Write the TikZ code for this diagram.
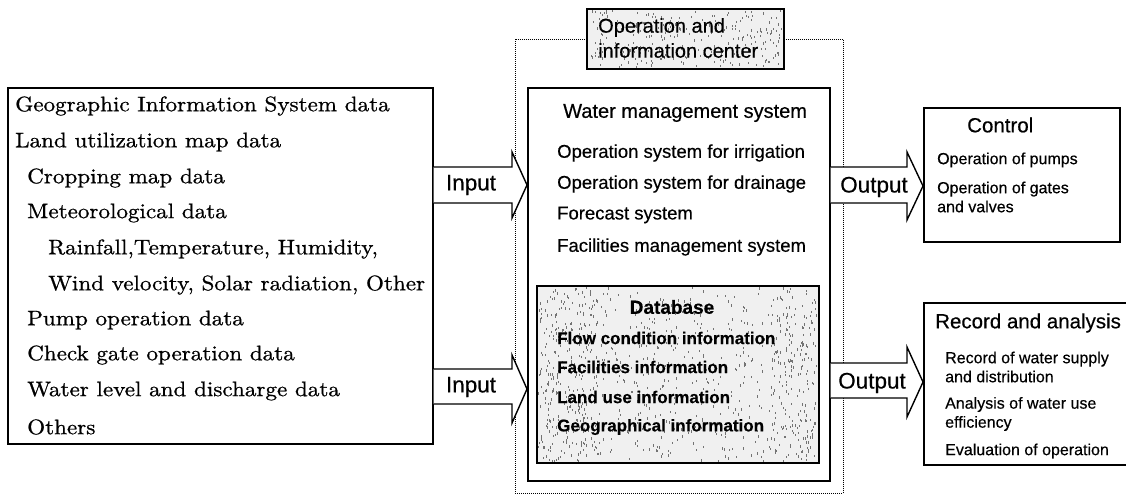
\documentclass[tikz,border=0pt]{standalone}
\usepackage{fontspec}
\newfontfamily\arialfont[FakeBold=0.4]{Liberation Sans}
\newfontfamily\datafont[FakeBold=0.8,FakeStretch=1.1]{lmroman10-regular.otf}
\usetikzlibrary{calc}
\tikzset{
  frame/.style={draw, line width=1.6pt, inner sep=0pt},
  blockarrow/.style={draw, line width=1.4pt, fill=white, line join=miter},
  datatext/.style={anchor=west, inner sep=0pt, font=\datafont\fontsize{21}{25}\selectfont},
  systext/.style={anchor=west, inner sep=0pt, font=\arialfont\fontsize{18.5}{22}\selectfont},
  headtext/.style={anchor=west, inner sep=0pt, font=\arialfont\fontsize{20}{24}\selectfont},
  dbtext/.style={anchor=west, inner sep=0pt, font=\arialfont\bfseries\fontsize{17}{20}\selectfont},
  flowtext/.style={inner sep=0pt, font=\arialfont\fontsize{22.5}{26}\selectfont},
  outtext/.style={anchor=west, inner sep=0pt, align=left, font=\arialfont\fontsize{16}{19}\selectfont},
  speck/.style={fill=black!55},
}
\begin{document}
\begin{tikzpicture}[x=1pt, y=-1pt]
\useasboundingbox (0,0) rectangle (1126,495);
\pgfmathsetseed{4213}

% input data list
\node[frame, anchor=north west, minimum width=425pt, minimum height=356pt] (datalist) at (7,87) {};
\node[datatext] (d1)  at (15,106) {Geographic Information System data};
\node[datatext] (d2)  at (15,142) {Land utilization map data};
\node[datatext] (d3)  at (27,178) {Cropping map data};
\node[datatext] (d4)  at (27,213) {Meteorological data};
\node[datatext] (d5)  at (48,249) {Rainfall,Temperature, Humidity,};
\node[datatext] (d6)  at (48,285) {Wind velocity, Solar radiation, Other};
\node[datatext] (d7)  at (27,320) {Pump operation data};
\node[datatext] (d8)  at (27,355) {Check gate operation data};
\node[datatext] (d9)  at (27,391) {Water level and discharge data};
\node[datatext] (d10) at (27,427) {Others};

% operation and information center (dotted enclosure)
\node[draw, dash pattern=on 1pt off 1pt, line width=0.8pt, inner sep=0pt,
      anchor=north west, minimum width=328pt, minimum height=454pt] (center) at (515,39) {};

% title tag of the center
\node[frame, fill=black!6, anchor=north west, minimum width=197pt, minimum height=60pt] (tag) at (586,8) {};
\foreach \i in {1,...,260}
  \fill[speck] ({588+193*rnd},{10+56*rnd}) rectangle ++(0.9,2.2);
\node[anchor=west, inner sep=0pt, align=left, font=\arialfont\fontsize{20}{25}\selectfont]
  (tagtext) at (598,38) {Operation and\\information center};

% water management system
\node[frame, fill=white, anchor=north west, minimum width=302pt, minimum height=393pt] (wms) at (527,87) {};
\node[headtext] (wmshead) at (563,113) {Water management system};
\node[systext] (s1) at (557,153) {Operation system for irrigation};
\node[systext] (s2) at (557,184) {Operation system for drainage};
\node[systext] (s3) at (557,215) {Forecast system};
\node[systext] (s4) at (557,247) {Facilities management system};

% database
\node[frame, fill=black!6, anchor=north west, minimum width=282pt, minimum height=177pt] (db) at (536,285) {};
\foreach \i in {1,...,520}
  \fill[speck] ({538+278*rnd},{287+173*rnd}) rectangle ++(0.9,2.4);
\foreach \i in {1,...,220}
  \fill[speck] ({538+60*rnd},{287+173*rnd}) rectangle ++(0.9,2.4);
\foreach \i in {1,...,160}
  \fill[speck] ({770+46*rnd},{287+173*rnd}) rectangle ++(0.9,2.4);
\node[inner sep=0pt, font=\arialfont\bfseries\fontsize{19}{22}\selectfont] (dbhead) at (672,307) {Database};
\node[dbtext] (b1) at (557,338) {Flow condition information};
\node[dbtext] (b2) at (557,367) {Facilities information};
\node[dbtext] (b3) at (557,397) {Land use information};
\node[dbtext] (b4) at (557,427) {Geographical information};

% input arrows
\draw[blockarrow] (datalist.east |- 0,167) -- (512,167) -- (512,152) -- (wms.west |- 0,185)
  -- (512,218) -- (512,203) -- (datalist.east |- 0,203);
\draw[blockarrow] (datalist.east |- 0,369) -- (512,369) -- (512,355) -- (wms.west |- 0,389)
  -- (512,423) -- (512,404) -- (datalist.east |- 0,404);
\node[flowtext] (in1) at (471,185) {Input};
\node[flowtext] (in2) at (471,387) {Input};

% control
\node[frame, anchor=north west, minimum width=196pt, minimum height=134pt] (control) at (923,107) {};
\node[headtext, font=\arialfont\fontsize{20.5}{24}\selectfont] (ctitle) at (967,125) {Control};
\node[outtext] (c1) at (937,160) {Operation of pumps};
\node[outtext] (c2) at (937,197) {Operation of gates\\and valves};

% record and analysis
\node[frame, anchor=north west, minimum width=220pt, minimum height=162pt] (record) at (923,302) {};
\node[headtext, font=\arialfont\fontsize{20.5}{24}\selectfont] (rtitle) at (935,323) {Record and analysis};
\node[outtext] (r1) at (945,367) {Record of water supply\\and distribution};
\node[outtext] (r2) at (945,414) {Analysis of water use\\efficiency};
\node[outtext] (r3) at (945,451) {Evaluation of operation};

% output arrows
\draw[blockarrow] (wms.east |- 0,167) -- (907,167) -- (907,152) -- (control.west |- 0,186)
  -- (907,220) -- (907,203) -- (wms.east |- 0,203);
\draw[blockarrow] (wms.east |- 0,363) -- (907,363) -- (907,347) -- (record.west |- 0,382)
  -- (907,417) -- (907,398) -- (wms.east |- 0,398);
\node[flowtext] (out1) at (874,187) {Output};
\node[flowtext] (out2) at (872,383) {Output};
\end{tikzpicture}
\end{document}
